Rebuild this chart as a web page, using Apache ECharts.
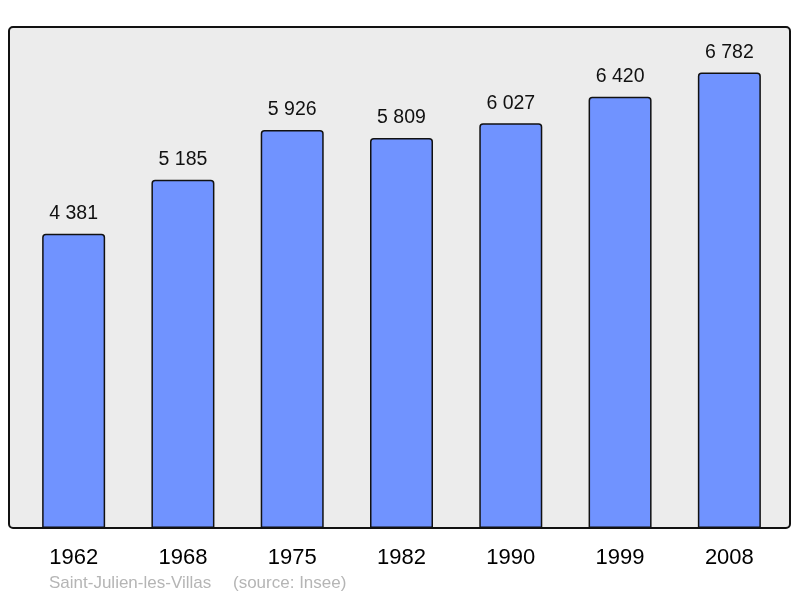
<!DOCTYPE html>
<html><head><meta charset="utf-8">
<script src="https://cdn.jsdelivr.net/npm/echarts@6/dist/echarts.min.js"></script>
<style>html,body{margin:0;padding:0;background:#fff}#c{width:800px;height:598px}</style>
</head><body><div id="c"></div>
<script>
const years = ['1962','1968','1975','1982','1990','1999','2008'];
const population = [4381, 5185, 5926, 5809, 6027, 6420, 6782];
const commune = 'Saint-Julien-les-Villas';
const source = '(source: Insee)';

const chart = echarts.init(document.getElementById('c'), null, {renderer:'canvas'});
const fmt = v => String(v).replace(/\B(?=(\d{3})+(?!\d))/g, ' ');
const FF = 'Liberation Sans, Arial, sans-serif';
chart.setOption({
  animation:false,
  textStyle:{fontFamily:FF},
  graphic:[
    {type:'rect', z:0, shape:{x:9,y:27,width:781,height:501,r:4},
     style:{fill:'#ececec', stroke:'#111', lineWidth:2}},
    {type:'text', left:49, top:575, z:5,
     style:{text: commune, fill:'#b5b5b5', font:'17px ' + FF}},
    {type:'text', left:233, top:575, z:5,
     style:{text: source, fill:'#b5b5b5', font:'17px ' + FF}}
  ],
  grid:{left:19, width:765, top:27, height:501},
  xAxis:{type:'category', data:years, axisLine:{show:false}, axisTick:{show:false},
    axisLabel:{color:'#000', fontSize:22, margin:19, fontFamily:FF}},
  yAxis:{type:'value', min:0, max:7460, show:false, splitLine:{show:false}},
  series:[{type:'bar', data:population, barWidth:63, z:3,
    itemStyle:{color:'#7093ff', borderColor:'#111', borderWidth:1.5, borderRadius:[3,3,0,0]},
    label:{show:true, position:'top', distance:10, color:'#111', fontSize:19.5,
      fontFamily:FF, formatter:p=>fmt(p.value)}}]
});
</script></body></html>
